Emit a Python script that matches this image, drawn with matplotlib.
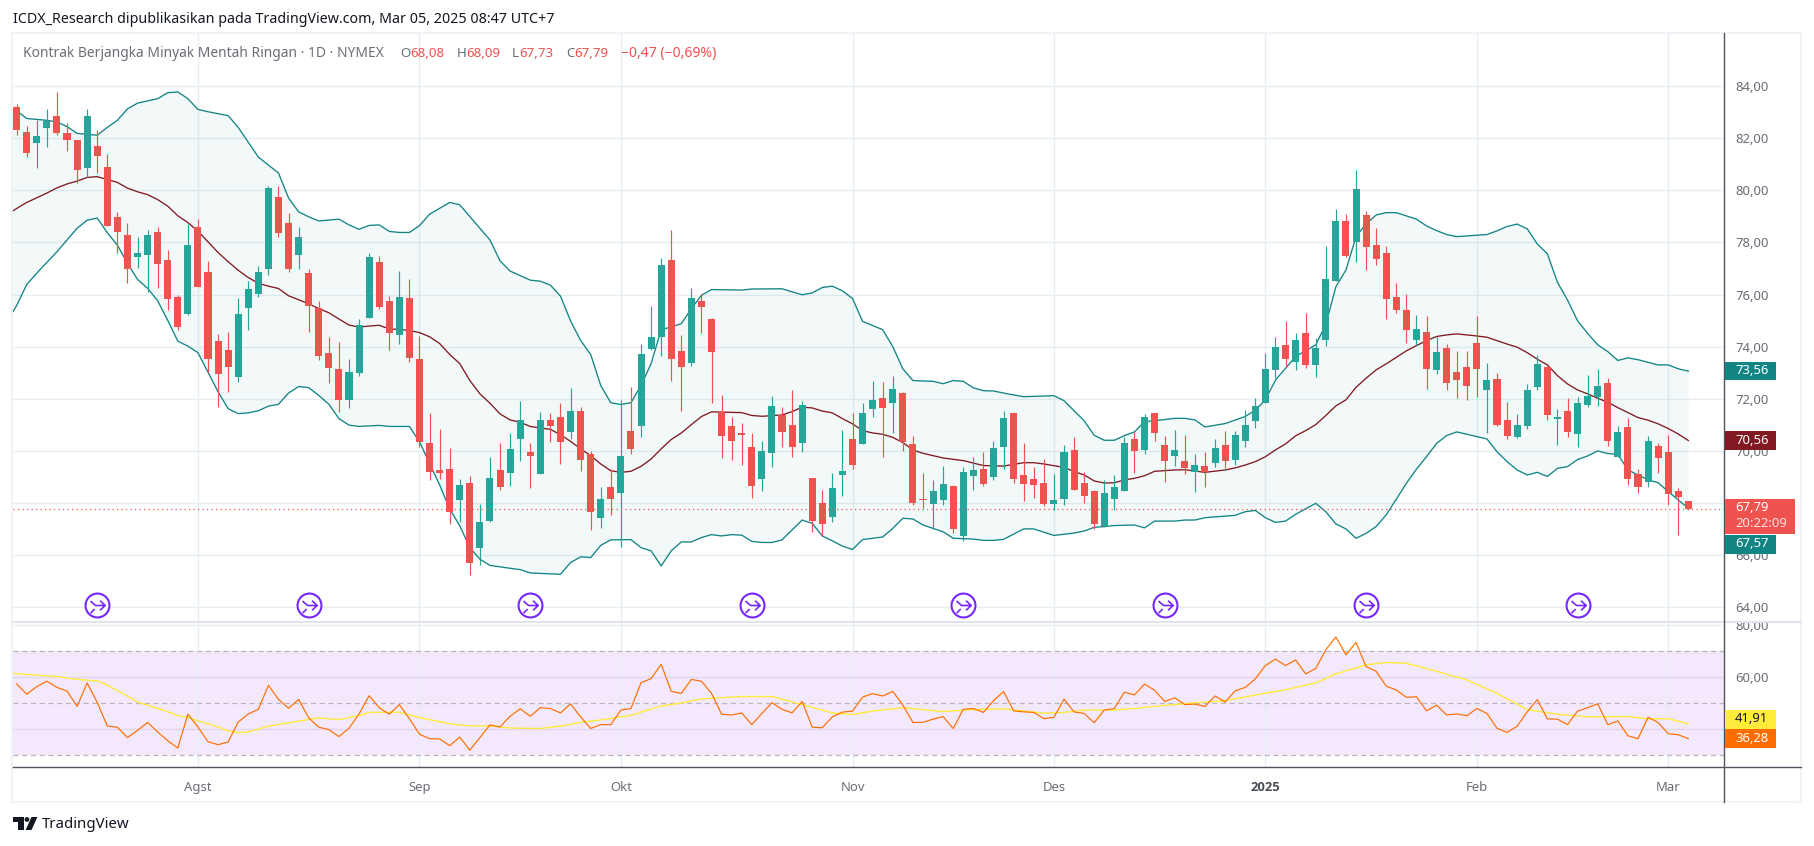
import numpy as np
import matplotlib
matplotlib.use("Agg")
import matplotlib.pyplot as plt
from matplotlib.patches import Rectangle, Polygon, Circle
from matplotlib.lines import Line2D
from matplotlib.path import Path
from matplotlib.transforms import Affine2D, Bbox

W, H = 1814, 846
FONT = "Noto Sans"
plt.rcParams["font.family"] = [FONT, "DejaVu Sans"]

opens = [83.18,82.25,81.81,82.38,82.86,82.18,81.94,80.85,81.71,80.90,
78.96,78.30,77.43,77.50,78.38,77.34,75.91,75.24,78.60,76.87,
74.23,73.88,72.83,75.47,76.01,76.97,79.75,78.76,77.50,76.84,
75.50,73.77,73.16,71.94,72.98,75.09,77.23,75.76,74.43,75.88,
73.54,70.32,69.28,69.32,68.10,68.78,66.26,67.33,69.28,69.14,
70.45,69.97,69.10,71.17,71.32,70.72,71.55,69.90,67.41,68.63,
68.37,70.78,70.95,73.91,74.37,77.32,73.82,73.37,75.74,75.05,
71.51,70.97,70.67,70.17,68.91,69.91,71.36,71.01,70.29,68.97,
68.01,67.45,69.06,70.44,70.26,71.60,72.03,71.85,72.22,70.27,
68.16,67.98,68.13,68.66,66.75,69.05,69.31,69.02,70.17,71.46,
69.08,68.93,68.77,67.98,68.17,70.04,68.77,68.47,67.11,68.17,
68.48,70.46,70.05,71.46,70.23,69.82,69.62,69.21,69.42,69.55,
70.23,69.67,70.40,71.13,71.84,73.12,74.07,73.43,74.53,73.31,
74.27,76.53,78.82,78.03,79.05,77.90,77.60,75.91,75.41,74.27,
74.57,73.12,73.95,73.03,73.22,74.14,72.35,72.76,71.19,70.54,
70.97,72.46,73.22,71.24,71.53,70.66,71.76,72.07,72.61,69.78,
70.92,69.12,68.82,70.19,69.96,68.47,68.08]
highs = [83.31,82.46,82.68,83.12,83.75,82.59,81.94,83.12,82.29,81.37,
79.15,78.76,78.22,78.49,78.60,77.72,75.99,78.71,78.90,77.30,
74.50,74.57,75.88,76.52,77.10,80.18,80.18,79.11,78.60,76.98,
75.76,74.38,74.18,73.54,75.06,77.60,77.49,75.95,76.91,76.61,
74.42,71.47,70.85,70.13,68.94,69.05,67.97,69.78,70.32,70.70,
71.90,70.32,71.51,71.44,71.82,72.40,71.70,70.01,68.63,69.32,
71.94,72.47,74.09,75.55,77.40,78.47,74.44,76.24,76.01,75.09,
72.13,71.32,71.09,70.67,70.40,72.09,71.70,72.32,71.90,68.97,
68.51,69.17,70.82,71.44,71.82,72.67,72.63,72.88,72.26,70.58,
69.16,68.89,69.42,68.70,69.39,69.77,69.96,70.38,71.53,71.50,
70.31,69.39,69.69,69.12,70.23,70.54,69.19,68.50,68.89,69.08,
70.54,70.73,71.42,71.46,70.58,70.81,70.61,69.88,69.96,70.46,
70.77,70.77,71.57,72.03,73.76,74.37,74.99,74.53,75.29,74.32,
77.86,79.28,79.09,80.78,79.21,78.55,77.86,76.44,76.02,75.22,
75.18,74.37,74.10,73.83,73.83,75.18,73.38,72.99,71.88,71.42,
72.57,73.68,73.26,71.61,72.03,72.07,72.92,73.15,72.80,70.96,
71.27,69.31,70.58,70.31,70.61,68.58,68.09]
lows = [82.11,81.27,80.85,81.66,82.11,81.49,80.29,80.49,80.66,78.61,
77.58,76.43,77.01,76.09,76.24,75.39,74.62,75.20,76.30,73.02,
71.70,72.25,72.64,74.62,75.90,76.73,78.20,76.86,76.97,74.56,
73.47,72.59,71.48,71.64,72.86,75.09,75.43,73.86,74.09,73.40,
70.14,68.87,68.91,67.18,67.27,65.26,65.64,67.26,68.49,68.64,
69.60,68.56,69.10,70.36,69.49,70.44,69.22,66.95,67.06,67.56,
66.33,69.87,70.53,73.86,73.64,72.68,71.53,73.26,74.53,71.83,
69.72,69.64,69.45,68.18,68.45,69.37,70.14,69.76,69.95,66.91,
66.73,67.29,68.29,69.32,70.26,71.29,69.76,70.69,70.01,67.93,
67.80,67.02,67.93,66.85,66.56,68.50,68.66,68.89,69.31,68.77,
68.08,68.20,67.89,67.74,67.93,68.50,68.00,67.02,67.10,67.74,
68.48,69.16,69.88,70.38,68.81,69.42,69.12,68.43,68.62,69.40,
69.35,69.48,70.17,70.88,71.83,72.79,73.24,73.12,73.18,72.85,
74.03,76.52,77.43,77.25,76.94,77.14,75.06,75.29,74.14,74.07,
72.38,72.95,72.34,72.03,71.96,72.07,70.69,70.96,70.46,70.50,
70.84,72.34,71.19,70.23,70.54,70.15,71.69,71.73,70.19,69.77,
68.70,68.39,68.62,69.16,67.93,66.78,67.73]
closes = [82.30,81.42,82.09,82.66,82.18,81.92,80.76,82.86,81.30,78.61,
78.39,76.97,77.61,78.30,77.16,75.82,74.75,77.91,76.30,73.51,
72.94,73.21,75.27,76.23,76.87,80.07,78.35,76.97,78.19,75.54,
73.66,73.17,71.94,73.03,74.84,77.45,75.51,74.51,75.91,73.55,
70.33,69.21,69.14,67.64,68.70,65.72,67.28,68.97,68.60,70.09,
71.17,69.82,71.17,70.94,70.33,71.55,69.64,67.64,68.17,68.14,
69.82,70.06,73.71,74.36,77.13,73.53,73.22,75.86,75.51,73.79,
70.56,70.37,70.63,68.64,70.01,71.74,70.72,70.14,71.78,67.33,
67.18,68.59,69.24,69.45,71.47,71.97,71.64,72.38,70.36,68.02,
68.12,68.47,68.73,67.02,69.19,69.27,68.75,70.11,71.27,68.94,
68.75,68.71,67.98,68.12,69.96,68.52,68.29,67.21,68.39,68.62,
70.31,70.01,71.30,70.70,69.63,70.04,69.36,69.46,69.19,70.11,
69.63,70.61,71.00,71.73,73.15,73.99,73.54,74.26,73.31,73.95,
76.60,78.82,77.48,80.05,77.84,77.38,75.81,75.42,74.62,74.68,
73.16,73.80,72.62,72.74,72.51,73.16,72.72,71.00,70.58,71.00,
72.34,73.34,71.36,71.30,70.73,71.84,72.11,72.50,70.38,70.73,
68.93,68.63,70.38,69.74,68.35,68.24,67.79]

bb_upper = [(-0.4,83.10),(0,83.05),(1,82.75),(3,82.68),(4,82.62),(5,82.44),(6,82.18),(7,82.14),(8,82.11),(9,82.41),
(10,82.68),(11,83.12),(12,83.34),(14,83.51),(15,83.74),(16,83.77),(17,83.51),(18,83.10),(19,83.01),(21,82.86),
(22,82.41),(24,81.27),(26,80.66),(27,79.70),(28,79.17),(29,78.98),(30,78.82),(32,78.89),(33,78.67),(34,78.50),
(35,78.65),(36,78.67),(37,78.42),(38,78.38),(39,78.38),(40,78.64),(41,79.08),(43,79.53),(44,79.44),(45,78.99),
(47,78.09),(48,77.29),(49,76.90),(51,76.55),(52,76.51),(53,76.36),(54,75.94),(55,74.99),(56,74.24),(57,73.70),
(58,72.51),(59,71.85),(60,71.78),(61,71.85),(62,72.51),(63,73.35),(64,74.65),(65,74.76),(66,74.88),(67,75.46),
(68,75.97),(69,76.19),(72,76.17),(73,76.21),(76,76.22),(78,75.99),(79,76.06),(80,76.27),(81,76.32),(82,76.14),
(83,75.85),(84,74.97),(86,74.65),(87,74.00),(88,73.15),(89,72.70),(91,72.67),(92,72.58),(93,72.70),(94,72.67),
(95,72.42),(96,72.31),(97,72.30),(98,72.22),(100,72.08),(103,72.12),(104,71.93),(106,71.16),(107,70.60),(108,70.41),
(109,70.41),(110,70.59),(111,70.73),(112,71.13),(113,71.16),(115,71.25),(116,71.25),(117,71.19),(118,70.92),(120,71.05),
(122,71.32),(123,71.57),(124,71.96),(125,72.72),(126,73.17),(127,73.62),(129,74.07),(130,74.85),(131,76.30),(132,76.94),
(133,78.22),(134,78.71),(135,79.05),(136,79.14),(137,79.14),(139,78.89),(140,78.63),(141,78.45),(142,78.30),(143,78.22),
(146,78.30),(147,78.44),(148,78.61),(149,78.70),(150,78.52),(151,77.94),(152,77.56),(153,76.47),(154,75.79),(155,74.99),
(156,74.51),(157,74.07),(158,73.81),(159,73.47),(160,73.57),(161,73.50),(163,73.30),(164,73.30),(165,73.15),(166,73.06)]

bb_basis = [(-0.4,79.20),(0,79.30),(1,79.53),(3,79.89),(4,80.09),(5,80.24),(6,80.35),(7,80.49),(8,80.52),(9,80.41),
(10,80.30),(11,80.08),(12,79.94),(13,79.83),(14,79.64),(15,79.39),(16,79.02),(17,78.76),(18,78.43),(19,78.02),
(20,77.61),(21,77.26),(22,76.93),(23,76.65),(24,76.43),(25,76.32),(26,76.23),(27,75.95),(28,75.80),(29,75.64),
(30,75.46),(31,75.30),(32,75.06),(33,74.83),(34,74.75),(35,74.79),(36,74.82),(37,74.68),(38,74.66),(39,74.62),
(40,74.54),(41,74.38),(42,74.12),(43,73.70),(44,73.35),(45,72.70),(46,72.19),(47,71.83),(48,71.42),(49,71.19),
(50,71.10),(51,70.94),(52,70.88),(53,70.83),(54,70.62),(55,70.37),(56,70.08),(57,69.82),(58,69.50),(59,69.24),
(60,69.18),(61,69.22),(62,69.41),(63,69.69),(64,70.08),(65,70.44),(66,70.69),(67,71.01),(68,71.32),(69,71.50),
(72,71.47),(73,71.36),(74,71.33),(76,71.38),(77,71.51),(78,71.68),(79,71.65),(80,71.53),(81,71.46),(82,71.24),
(83,71.04),(84,70.78),(85,70.69),(86,70.64),(87,70.52),(88,70.32),(89,70.04),(90,69.91),(92,69.73),(94,69.63),
(96,69.44),(98,69.42),(100,69.55),(101,69.55),(102,69.50),(104,69.37),(105,69.21),(106,69.08),(107,68.85),(108,68.77),
(109,68.78),(110,68.89),(111,68.95),(112,69.05),(113,69.22),(115,69.27),(116,69.28),(117,69.23),(118,69.18),(120,69.27),
(121,69.35),(122,69.46),(123,69.59),(124,69.78),(125,70.04),(126,70.27),(127,70.58),(128,70.78),(129,71.01),(130,71.36),
(131,71.73),(132,71.96),(133,72.44),(134,72.79),(135,73.11),(136,73.34),(137,73.59),(138,73.84),(139,74.04),(140,74.23),
(141,74.39),(142,74.45),(143,74.49),(145,74.41),(146,74.36),(147,74.23),(148,74.10),(149,73.98),(150,73.77),(151,73.52),
(152,73.30),(153,72.89),(154,72.57),(155,72.34),(156,72.19),(157,72.02),(158,71.87),(159,71.66),(160,71.47),(161,71.28),
(162,71.18),(163,71.04),(164,70.86),(165,70.65),(166,70.40)]

bb_lower = [(-0.4,75.32),(0,75.58),(1,76.38),(2,76.82),(3,77.23),(4,77.64),(5,78.09),(6,78.54),(7,78.85),(8,78.93),
(9,78.37),(10,77.89),(11,77.20),(12,76.58),(13,76.24),(14,75.76),(15,75.01),(16,74.21),(17,74.02),(18,73.77),
(19,73.02),(20,72.27),(21,71.62),(22,71.43),(23,71.46),(24,71.54),(25,71.72),(26,71.79),(27,72.22),(28,72.47),
(29,72.43),(30,72.13),(31,71.79),(32,71.24),(33,70.99),(34,70.94),(36,70.98),(37,70.94),(39,70.94),(40,70.35),
(41,69.52),(42,68.70),(43,67.77),(44,67.13),(45,66.29),(46,65.85),(47,65.61),(49,65.50),(50,65.45),(51,65.32),
(54,65.27),(55,65.72),(56,65.94),(57,65.91),(58,66.38),(59,66.59),(61,66.60),(62,66.29),(63,66.17),(64,65.59),
(65,66.17),(66,66.51),(67,66.51),(68,66.68),(69,66.79),(70,66.74),(71,66.79),(72,66.77),(73,66.53),(74,66.49),
(75,66.49),(76,66.59),(77,66.97),(78,67.35),(79,67.22),(80,66.74),(81,66.55),(82,66.35),(83,66.22),(84,66.60),
(86,66.70),(87,67.03),(88,67.42),(89,67.39),(90,67.16),(92,66.90),(93,66.65),(95,66.62),(96,66.57),(97,66.57),
(98,66.61),(100,67.01),(101,67.01),(103,66.76),(105,66.85),(106,66.93),(107,67.07),(108,67.10),(109,67.14),(111,67.16),
(112,67.05),(113,67.31),(115,67.31),(116,67.35),(117,67.35),(118,67.44),(121,67.53),(122,67.67),(123,67.72),(124,67.44),
(125,67.26),(126,67.31),(127,67.57),(129,67.99),(130,67.67),(131,67.20),(132,67.01),(133,66.65),(134,66.84),(135,67.10),
(136,67.55),(137,68.15),(138,68.76),(139,69.30),(140,69.78),(141,70.29),(142,70.59),(143,70.73),(146,70.46),(147,69.97),
(148,69.59),(149,69.27),(150,69.08),(151,69.18),(152,69.02),(153,69.33),(154,69.40),(155,69.67),(156,69.81),(157,70.00),
(158,69.90),(159,69.87),(160,69.27),(161,69.08),(162,68.89),(163,68.78),(164,68.44),(165,68.12),(166,67.80)]

rsi = [57.4,53.5,56.4,58.5,56.1,54.7,48.8,57.8,50.3,41.3,40.8,36.8,39.6,42.6,39.0,35.6,32.8,45.8,40.9,35.2,
34.1,35.1,42.8,45.9,47.7,56.9,51.5,48.1,51.5,44.4,40.8,39.9,37.2,40.4,45.9,52.9,48.3,45.8,49.5,44.1,
38.1,36.4,36.3,33.7,37.0,32.0,36.8,41.7,40.9,45.0,47.9,45.0,48.3,48.0,46.3,49.8,44.8,40.3,41.8,41.8,
47.4,48.0,57.9,59.5,65.0,54.6,53.8,59.2,58.5,53.8,45.8,45.5,46.3,41.8,46.1,50.2,47.7,46.3,50.7,40.8,
40.6,44.8,46.6,47.0,52.4,53.7,52.8,54.6,49.3,42.6,42.7,43.9,44.9,40.3,47.7,48.0,46.5,51.0,54.5,47.1,
46.7,46.5,44.1,44.6,51.6,46.7,46.1,42.5,47.4,48.0,54.3,53.2,57.4,55.0,50.7,52.1,49.5,49.7,48.8,52.8,
50.5,54.8,56.1,59.4,64.5,67.0,64.5,66.7,61.3,63.4,70.6,75.5,68.6,73.4,64.1,62.3,56.6,55.1,52.3,52.5,
47.1,49.3,45.5,45.9,45.2,48.0,46.1,40.4,38.8,41.2,46.7,51.4,44.0,43.9,41.8,47.0,48.3,49.8,41.8,43.2,
37.5,36.4,44.6,42.6,38.3,37.9,36.4]

rsi_ma = [(-0.4,61.5),(0,61.4),(2,60.8),(4,60.3),(6,59.2),(8,58.6),(9,57.0),(11,52.8),(12,50.5),(15,46.8),(16,45.2),(17,44.5),
(20,40.9),(21,39.4),(22,38.7),(23,39.0),(25,41.2),(27,42.5),(30,44.4),(32,43.7),(34,45.3),(35,46.5),(38,46.6),(40,44.5),
(43,42.1),(45,41.3),(47,41.3),(49,40.5),(52,40.3),(54,41.2),(56,42.7),(58,43.6),(61,45.4),(64,49.0),(66,50.1),(68,51.7),
(72,52.6),(75,52.6),(78,49.5),(81,46.3),(83,45.7),(85,47.0),(88,48.3),(92,46.8),(95,47.6),(98,47.9),(102,46.2),(104,46.5),
(106,47.4),(109,47.4),(111,48.0),(114,49.2),(117,50.2),(120,51.0),(124,53.9),(126,55.2),(129,57.9),(131,61.3),(134,64.8),
(136,65.7),(138,65.4),(141,62.3),(144,59.0),(147,53.8),(150,47.6),(153,45.8),(156,44.8),(160,44.9),(162,44.0),(164,44.1),(166,42.1)]

month_idx = [18, 40, 60, 83, 103, 124, 145, 164]
month_labels = ["Agst", "Sep", "Okt", "Nov", "Des", "2025", "Feb", "Mar"]
price_ticks = [64, 66, 68, 70, 72, 74, 76, 78, 80, 82, 84]
rsi_ticks = [60, 80]
rsi_grid = [40, 60, 80]
rsi_bands = [30, 50, 70]
event_idx = [8, 29, 51, 73, 94, 114, 134, 155]
event_price = 64.09
last_price = 67.79

UP, DOWN = "#26A69A", "#EF5350"
BAND, BASIS = "#138484", "#801922"
GRID, TICK, DARK = "#E6EDF3", "#6A6D78", "#50535E"
RSI_C, MA_C, PURPLE = "#FF6D00", "#FFEB3B", "#7627FF"

fig = plt.figure(figsize=(W / 100, H / 100), dpi=100, facecolor="white")
PX = Affine2D().scale(1, -1).translate(0, H)


def axes_px(left, top, right, bottom):
    return fig.add_axes([left / W, 1 - bottom / H, (right - left) / W, (bottom - top) / H])


ax = axes_px(13, 33.5, 1724.3, 622)
rx = axes_px(13, 622.3, 1724.3, 767)
xlim = (-0.364, 169.57)

# price pane
x = np.arange(len(opens))
o, h, l, c = map(np.array, (opens, highs, lows, closes))
cols = [UP if cc >= oo else DOWN for oo, cc in zip(o, c)]
up_x, up_v = zip(*bb_upper)
mid_x, mid_v = zip(*bb_basis)
lo_x, lo_v = zip(*bb_lower)
ax.fill(list(up_x) + list(lo_x)[::-1], list(up_v) + list(lo_v)[::-1],
        color="#138C84", alpha=0.05, lw=0, zorder=1)
ax.plot(up_x, up_v, color=BAND, lw=0.95, zorder=2)
ax.plot(lo_x, lo_v, color=BAND, lw=0.95, zorder=2)
ax.plot(mid_x, mid_v, color=BASIS, lw=0.95, zorder=2)
ax.vlines(x, l, h, colors=cols, lw=0.85, zorder=3)
ax.bar(x, np.abs(c - o), bottom=np.minimum(o, c), width=0.7, color=cols, lw=0, zorder=3)
ax.axhline(last_price, color=DOWN, lw=0.9, ls=(0, (1, 2.6)), zorder=4)
ax.set_xlim(*xlim)
ax.set_ylim(63.44, 86.01)
ax.set_yticks(price_ticks)
ax.set_yticklabels([f"{t},00" for t in price_ticks])

# event icons
ax.plot(event_idx, [event_price] * len(event_idx), ls="", marker="o", ms=17.2, mfc="white",
        mec=PURPLE, mew=1.5, zorder=5)
glyph = Path([(-0.55, 0.35), (-0.15, 0.0), (0.6, 0.0), (0.2, 0.38), (0.6, 0.0), (0.2, -0.38), (-0.55, -0.6), (-0.22, -0.28)],
             [Path.MOVETO, Path.LINETO, Path.LINETO, Path.MOVETO, Path.LINETO, Path.LINETO, Path.MOVETO, Path.LINETO])
ax.plot(event_idx, [event_price] * len(event_idx), ls="", marker=glyph, ms=11, mfc="none",
        mec=PURPLE, mew=1.2, zorder=6)

# RSI pane
rx.axhspan(min(rsi_bands), max(rsi_bands), color="#9B26EE", alpha=0.105, lw=0, zorder=0.4)
for v in rsi_grid:
    rx.axhline(v, color="#E2D6EE" if v < 70 else GRID, lw=1.0, zorder=0.6)
for v in rsi_bands:
    rx.axhline(v, color="#B9B3BE", lw=0.9, ls=(0, (4, 3)), zorder=0.7)
ma_x, ma_v = zip(*rsi_ma)
rx.plot(ma_x, ma_v, color=MA_C, lw=1.0, zorder=2)
rx.plot(x, rsi, color=RSI_C, lw=0.85, zorder=3)
rx.set_xlim(*xlim)
rx.set_ylim(25.5, 81.15)
rx.set_yticks(rsi_ticks)
rx.set_yticklabels([f"{t},00" for t in rsi_ticks])
rx.set_xticks(month_idx)
rx.set_xticklabels(month_labels)

for a in (ax, rx):
    a.set_axisbelow(True)
    a.set_facecolor("none")
    for s in a.spines.values():
        s.set_visible(False)
    for m in month_idx:
        a.axvline(m, color=GRID, lw=1.0, zorder=0.5)
    a.yaxis.tick_right()
    a.tick_params(axis="y", length=0, pad=8, labelsize=9.4, labelcolor=TICK)
    a.tick_params(axis="x", length=0, labelsize=9.4, labelcolor=TICK)
for v in price_ticks:
    ax.axhline(v, color=GRID, lw=1.0, zorder=0.5)
ax.set_xticks([])
rx.tick_params(axis="x", pad=10)
for lab, name in zip(rx.get_xticklabels(), month_labels):
    if name == "2025":
        lab.set_fontfamily(["Open Sans", "DejaVu Sans"])
        lab.set_fontweight("bold")
        lab.set_color("#4A4D58")
for lab in rx.get_yticklabels():
    lab.set_clip_box(Bbox([[1724, H - 800], [1800, H - 623]]))
    lab.set_clip_on(True)

# frame and separators (px)
fig.add_artist(Rectangle((12, 32.5), 1789, 769.5, fill=False, ec="#F0F3F6", lw=1.5, transform=PX, zorder=-1))
fig.add_artist(Line2D([13, 1801], [622.3, 622.3], color="#E0E3EB", lw=1.5, transform=PX, zorder=1))
fig.add_artist(Line2D([13, 1801], [767, 767], color=DARK, lw=1.0, transform=PX, zorder=1))
fig.add_artist(Line2D([1724.3, 1724.3], [33, 802], color=DARK, lw=1.0, transform=PX, zorder=1))


def box(top, bottom, right, color, *lines):
    fig.add_artist(Rectangle((1724.8, top), right - 1724.8, bottom - top, fc=color, ec="none", transform=PX, zorder=2))
    for ypx, txt, col in lines:
        fig.text(1735 / W, 1 - ypx / H, txt, color=col, fontsize=9.4, va="center", ha="left", zorder=3)


box(361.5, 380, 1776, "#138484", (370.5, "73,56", "white"))
box(430.5, 449.5, 1776, "#801922", (440, "70,56", "white"))
box(499, 533.5, 1795, "#EF5350", (507, "67,79", "white"), (523.5, "20:22:09", "#FFE3E1"))
box(535, 553.5, 1776, "#138484", (543.5, "67,57", "white"))
box(710, 729, 1776, MA_C, (719, "41,91", "#131722"))
box(729, 748, 1776, RSI_C, (738, "36,28", "white"))

# header
fig.text(13 / W, 1 - 19.5 / H, "ICDX_Research dipublikasikan pada TradingView.com, Mar 05, 2025 08:47 UTC+7",
         color="#131722", fontsize=10.27, va="center")
head = [(23.3, "Kontrak Berjangka Minyak Mentah Ringan · 1D · NYMEX", TICK, 9.95),
        (400, "O", TICK, 9.6), (410.6, "68,08", DOWN, 9.6), (456.6, "H", TICK, 9.6), (466.3, "68,09", DOWN, 9.6),
        (512, "L", TICK, 9.6), (519, "67,73", DOWN, 9.6), (566, "C", TICK, 9.6), (574, "67,79", DOWN, 9.6),
        (621, "−0,47 (−0,69%)", DOWN, 10.1)]
for px, txt, col, fs in head:
    fig.text(px / W, 1 - 53.5 / H, txt, color=col, fontsize=fs, va="center")

# logo
LOGO = "#131722"
fig.add_artist(Polygon([(12.6, 817), (23.5, 817), (23.5, 830), (18.2, 830), (18.2, 822), (12.6, 822)],
                       closed=True, fc=LOGO, ec="none", transform=PX))
fig.add_artist(Circle((27, 819.5), 2.4, fc=LOGO, ec="none", transform=PX))
fig.add_artist(Polygon([(31.5, 817), (37.4, 817), (31.5, 830), (25.6, 830)], closed=True, fc=LOGO, ec="none", transform=PX))
fig.text(42 / W, 1 - 824 / H, "TradingView", color=LOGO, fontsize=10.8, va="center")

fig.savefig("out.png", dpi=100)
